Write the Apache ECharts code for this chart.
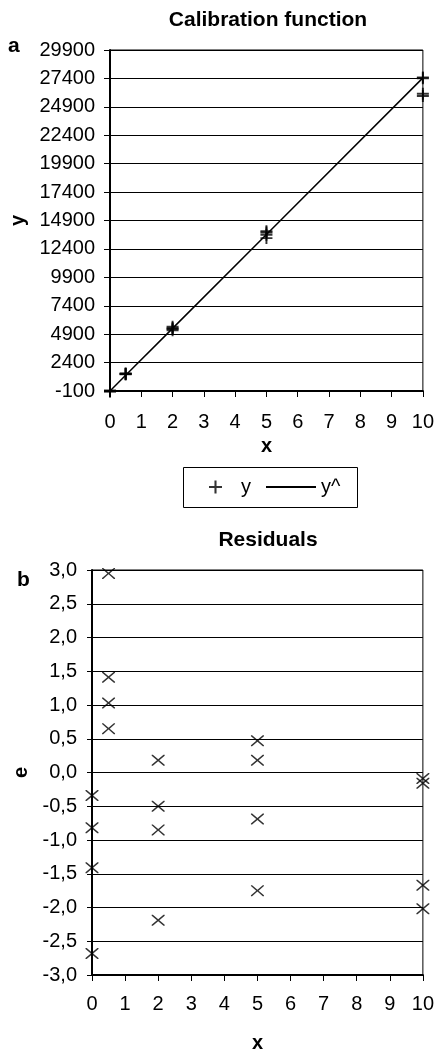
<!DOCTYPE html>
<html>
<head>
<meta charset="utf-8">
<script src="https://cdn.jsdelivr.net/npm/echarts@6/dist/echarts.min.js"></script>
<style>
html,body{margin:0;padding:0;background:#fff;}
#chart{width:437px;height:1054px;}
</style>
</head>
<body>
<div id="chart"></div>
<script>
// ---- Data ----
const calX = [0, 0, 0, 0, 0.5, 0.5, 0.5, 0.5, 2, 2, 2, 2, 5, 5, 5, 5, 10, 10, 10, 10];
const calY = [-60, -90, -120, -150, 1450, 1420, 1390, 1360, 5560, 5450, 5360, 5250, 13950, 13850, 13650, 13350, 27480, 27420, 26050, 25850];
const fitX = [0, 0.5, 2, 5, 10];
const fitY = [-100, 1280, 5410, 13670, 27450];
const resX = [0, 0, 0, 0, 0.5, 0.5, 0.5, 0.5, 2, 2, 2, 2, 5, 5, 5, 5, 10, 10, 10, 10];
const resE = [-0.34, -0.82, -1.41, -2.68, 2.95, 1.41, 1.03, 0.65, 0.18, -0.50, -0.85, -2.19, 0.47, 0.18, -0.69, -1.75, -0.09, -0.16, -1.67, -2.02];
const titles = ['Calibration function', 'Residuals'];
const panelLabels = ['a', 'b'];
const legendNames = ['y', 'y^'];

// ---- Build ----
const FONT = "'Liberation Sans', Arial, sans-serif";
const pair = (xs, ys) => xs.map((x, i) => [x, ys[i]]);

const plusPath = 'path://M4.2,0H5.8V4.2H10V5.8H5.8V10H4.2V5.8H0V4.2H4.2Z';
const d = 0.9;
const crossPath = 'path://M0,0L' + d + ',0L5,' + (5 - d) + 'L' + (10 - d) + ',0L10,0L10,' + d +
  'L' + (5 + d) + ',5L10,' + (10 - d) + 'L10,10L' + (10 - d) + ',10L5,' + (5 + d) +
  'L' + d + ',10L0,10L0,' + (10 - d) + 'L' + (5 - d) + ',5L0,' + d + 'Z';

const axisText = { color: '#000', fontFamily: FONT, fontSize: 20 };
const nameText = { color: '#000', fontFamily: FONT, fontSize: 20, fontWeight: 'bold' };

const chart = echarts.init(document.getElementById('chart'), null, { renderer: 'canvas' });
chart.setOption({
  animation: false,
  backgroundColor: '#fff',
  title: [
    { text: titles[0], left: 268, top: 10, textAlign: 'center', padding: 0,
      textStyle: { fontFamily: FONT, fontSize: 21, fontWeight: 'bold', color: '#000' } },
    { text: titles[1], left: 268, top: 530, textAlign: 'center', padding: 0,
      textStyle: { fontFamily: FONT, fontSize: 21, fontWeight: 'bold', color: '#000' } }
  ],
  grid: [
    { left: 110, top: 50, width: 316, height: 341, show: true, borderColor: '#000', borderWidth: 1, backgroundColor: 'transparent' },
    { left: 92, top: 570, width: 335, height: 408, show: true, borderColor: '#000', borderWidth: 1, backgroundColor: 'transparent' }
  ],
  xAxis: [
    { gridIndex: 0, type: 'value', min: 0, max: 10, interval: 1,
      name: 'x', nameLocation: 'middle', nameGap: 45, nameTextStyle: nameText,
      axisLine: { onZero: false, lineStyle: { color: '#000', width: 2 } },
      axisTick: { show: true, length: 6, lineStyle: { color: '#000', width: 1 } },
      axisLabel: Object.assign({ margin: 21 }, axisText),
      splitLine: { show: false } },
    { gridIndex: 1, type: 'value', min: 0, max: 10, interval: 1,
      name: 'x', nameLocation: 'middle', nameGap: 58, nameTextStyle: nameText,
      axisLine: { onZero: false, lineStyle: { color: '#000', width: 2 } },
      axisTick: { show: true, length: 6, lineStyle: { color: '#000', width: 1 } },
      axisLabel: Object.assign({ margin: 19 }, axisText),
      splitLine: { show: false } }
  ],
  yAxis: [
    { gridIndex: 0, type: 'value', min: -100, max: 29900, interval: 2500,
      name: 'y', nameLocation: 'middle', nameRotate: 90, nameGap: 79, nameTextStyle: nameText,
      axisLine: { onZero: false, lineStyle: { color: '#000', width: 2 } },
      axisTick: { show: true, length: 6, lineStyle: { color: '#000', width: 1 } },
      axisLabel: Object.assign({ margin: 15, formatter: v => String(Math.round(v)) }, axisText),
      splitLine: { show: true, lineStyle: { color: '#000', width: 1 } } },
    { gridIndex: 1, type: 'value', min: -3, max: 3, interval: 0.5,
      name: 'e', nameLocation: 'middle', nameRotate: 90, nameGap: 61, nameTextStyle: nameText,
      axisLine: { onZero: false, lineStyle: { color: '#000', width: 2 } },
      axisTick: { show: true, length: 5, lineStyle: { color: '#000', width: 1 } },
      axisLabel: Object.assign({ margin: 15, formatter: v => v.toFixed(1).replace('.', ',') }, axisText),
      splitLine: { show: true, lineStyle: { color: '#000', width: 1 } } }
  ],
  legend: [
    { data: [legendNames[0]], left: 209, top: 477, padding: 0, itemWidth: 13, itemHeight: 13,
      icon: plusPath,
      textStyle: { color: '#000', fontFamily: FONT, fontSize: 20, lineHeight: 20, padding: [0, 0, 0, 14] } },
    { data: [{ name: legendNames[1], icon: 'rect' }], left: 266, top: 477, padding: 0, itemWidth: 50, itemHeight: 2,
      itemStyle: { color: '#000' },
      textStyle: { color: '#000', fontFamily: FONT, fontSize: 20, lineHeight: 20 } }
  ],
  graphic: [
    { type: 'rect', shape: { x: 183.5, y: 467.5, width: 174, height: 40 },
      style: { fill: 'none', stroke: '#000', lineWidth: 1 } },
    { type: 'text', left: 8, top: 36, style: { text: panelLabels[0], font: 'bold 21px ' + FONT, fill: '#000' } },
    { type: 'text', left: 17, top: 570, style: { text: panelLabels[1], font: 'bold 21px ' + FONT, fill: '#000' } }
  ],
  series: [
    { name: legendNames[0], type: 'scatter', xAxisIndex: 0, yAxisIndex: 0, clip: false,
      symbol: plusPath, symbolSize: 12, itemStyle: { color: '#000' },
      data: pair(calX, calY), z: 3 },
    { name: legendNames[1], type: 'line', xAxisIndex: 0, yAxisIndex: 0, clip: false,
      symbol: 'none', showSymbol: false, lineStyle: { color: '#000', width: 1.5 }, itemStyle: { color: '#000' },
      data: pair(fitX, fitY), z: 2 },
    { name: 'e', type: 'scatter', xAxisIndex: 1, yAxisIndex: 1, clip: false,
      symbol: crossPath, symbolSize: [13, 11], itemStyle: { color: '#000' },
      data: pair(resX, resE), z: 3 }
  ]
});
</script>
</body>
</html>
